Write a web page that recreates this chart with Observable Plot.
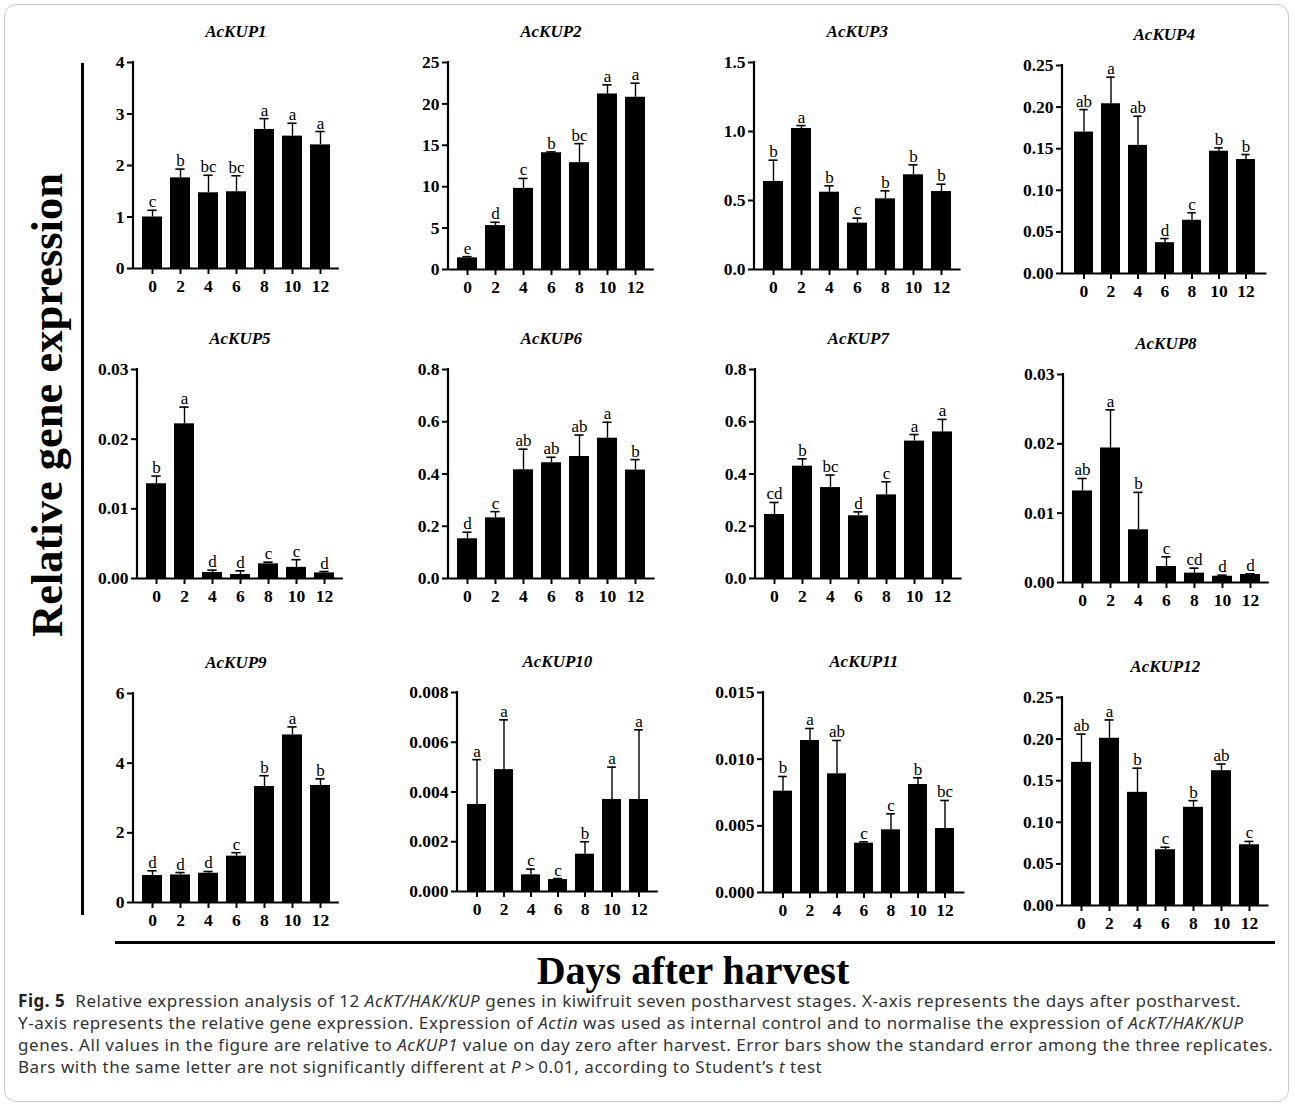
<!DOCTYPE html>
<html><head><meta charset="utf-8">
<script src="https://cdn.jsdelivr.net/npm/d3@7"></script>
<script src="https://cdn.jsdelivr.net/npm/@observablehq/plot@0.6"></script>
<style>
body{margin:0;background:#fff;}
#root{position:relative;width:1295px;height:1111px;overflow:hidden;background:#fff;font-family:"Liberation Serif","Times New Roman",serif;color:#000;}
.panel{position:absolute;}
#root svg, #root svg text{font-family:"Liberation Serif","Times New Roman",serif !important;}
.ttl{position:absolute;font-family:"Liberation Serif","Times New Roman",serif;font-weight:bold;font-style:italic;font-size:17px;transform:translate(-50%,-50%);white-space:nowrap;}
.box{position:absolute;left:4px;top:4px;width:1285px;height:1098px;border:1.5px solid #c9c9c9;border-radius:12px;box-sizing:border-box;}
.vline{position:absolute;left:81px;top:63px;width:3px;height:852px;background:#000;}
.hline{position:absolute;left:115px;top:941px;width:1160px;height:3px;background:#000;}
.ylab{position:absolute;left:47px;top:405px;transform:translate(-50%,-50%) rotate(-90deg);font-weight:bold;font-size:44.5px;white-space:nowrap;}
.xlab{position:absolute;left:693px;top:970px;transform:translate(-50%,-50%);font-weight:bold;font-size:40px;white-space:nowrap;}
.cap{position:absolute;left:18px;top:990px;font-family:"Noto Sans","Open Sans",sans-serif;font-size:17px;letter-spacing:0.55px;line-height:22px;color:#333;white-space:nowrap;}
.cap b{color:#222;}
</style></head><body><div id="root"></div>
<script>
// ---- data ----
const days = ["0","2","4","6","8","10","12"];
const genes = ["AcKUP1","AcKUP2","AcKUP3","AcKUP4","AcKUP5","AcKUP6","AcKUP7","AcKUP8","AcKUP9","AcKUP10","AcKUP11","AcKUP12"];

const mean1 = [1.00,1.76,1.47,1.49,2.70,2.57,2.40];
const top1  = [1.13,1.93,1.81,1.80,2.91,2.82,2.66];
const sig1  = ["c","b","bc","bc","a","a","a"];
const mean2 = [1.4,5.3,9.8,14.1,12.9,21.2,20.8];
const top2  = [1.55,5.7,11.0,14.2,15.2,22.3,22.5];
const sig2  = ["e","d","c","b","bc","a","a"];
const mean3 = [0.638,1.022,0.56,0.336,0.512,0.686,0.565];
const top3  = [0.792,1.043,0.606,0.372,0.57,0.758,0.618];
const sig3  = ["b","a","b","c","b","b","b"];
const mean4 = [0.170,0.204,0.154,0.037,0.064,0.147,0.137];
const top4  = [0.197,0.236,0.189,0.042,0.073,0.151,0.143];
const sig4  = ["ab","a","ab","d","c","b","b"];
const mean5 = [0.0136,0.0222,0.00086,0.00057,0.0021,0.0016,0.0008];
const top5  = [0.0147,0.0246,0.0012,0.0011,0.00234,0.0027,0.001];
const sig5  = ["b","a","d","d","c","c","d"];
const mean6 = [0.152,0.232,0.416,0.443,0.467,0.537,0.415];
const top6  = [0.177,0.256,0.495,0.464,0.549,0.598,0.455];
const sig6  = ["d","c","ab","ab","ab","a","b"];
const mean7 = [0.245,0.43,0.348,0.24,0.32,0.526,0.561];
const top7  = [0.291,0.458,0.396,0.255,0.37,0.551,0.609];
const sig7  = ["cd","b","bc","d","c","a","a"];
const mean8 = [0.0132,0.0194,0.0076,0.0023,0.00135,0.0009,0.00116];
const top8  = [0.0150,0.0249,0.0130,0.0037,0.00207,0.00106,0.00125];
const sig8  = ["ab","a","b","c","cd","d","d"];
const mean9 = [0.775,0.79,0.84,1.33,3.33,4.81,3.36];
const top9  = [0.91,0.86,0.89,1.43,3.64,5.04,3.55];
const sig9  = ["d","d","d","c","b","a","b"];
const mean10 = [0.0035,0.0049,0.00067,0.00048,0.0015,0.0037,0.0037];
const top10  = [0.0053,0.0069,0.0009,0.00052,0.0020,0.0050,0.0065];
const sig10  = ["a","a","c","c","b","a","a"];
const mean11 = [0.0076,0.0114,0.0089,0.0037,0.0047,0.0081,0.0048];
const top11  = [0.0087,0.0123,0.0114,0.0038,0.0059,0.0086,0.0069];
const sig11  = ["b","a","ab","c","c","b","bc"];
const mean12 = [0.172,0.201,0.136,0.067,0.118,0.162,0.073];
const top12  = [0.206,0.223,0.165,0.070,0.126,0.170,0.077];
const sig12  = ["ab","a","b","c","b","ab","c"];

const yticks1 = [0,1,2,3,4];
const yticks2 = [0,5,10,15,20,25];
const yticks3 = [0,0.5,1.0,1.5];
const yticks4 = [0,0.05,0.10,0.15,0.20,0.25];
const yticks5 = [0,0.01,0.02,0.03];
const yticks6 = [0,0.2,0.4,0.6,0.8];
const yticks7 = [0,0.2,0.4,0.6,0.8];
const yticks8 = [0,0.01,0.02,0.03];
const yticks9 = [0,2,4,6];
const yticks10 = [0,0.002,0.004,0.006,0.008];
const yticks11 = [0,0.005,0.010,0.015];
const yticks12 = [0,0.05,0.10,0.15,0.20,0.25];
const decimals = [0,0,1,2,2,1,1,2,0,3,3,2];

const means = [mean1,mean2,mean3,mean4,mean5,mean6,mean7,mean8,mean9,mean10,mean11,mean12];
const tops  = [top1,top2,top3,top4,top5,top6,top7,top8,top9,top10,top11,top12];
const sigs  = [sig1,sig2,sig3,sig4,sig5,sig6,sig7,sig8,sig9,sig10,sig11,sig12];
const yticks = [yticks1,yticks2,yticks3,yticks4,yticks5,yticks6,yticks7,yticks8,yticks9,yticks10,yticks11,yticks12];

// ---- layout (pixel placement of each panel) ----
const layout = [
  {ax:133, yt:62,  y0:268, step:28.2},
  {ax:448, yt:62,  y0:269, step:28.2},
  {ax:754, yt:62,  y0:269, step:28.3},
  {ax:1062,yt:65,  y0:273, step:28.0},
  {ax:137, yt:369, y0:578, step:28.2},
  {ax:448, yt:369, y0:578, step:28.3},
  {ax:755, yt:369, y0:578, step:28.3},
  {ax:1063,yt:374, y0:582, step:28.2},
  {ax:133, yt:693, y0:902, step:28.2},
  {ax:457, yt:692, y0:891, step:27.5},
  {ax:763, yt:692, y0:892, step:27.6},
  {ax:1062,yt:697, y0:905, step:28.3}
];

const root = document.getElementById("root");
function add(cls, html){const d=document.createElement("div");d.className=cls;if(html!==undefined)d.innerHTML=html;root.appendChild(d);return d;}

add("box");
add("vline");
add("hline");
add("ylab","Relative gene expression");
add("xlab","Days after harvest");

const SERIF = "'Liberation Serif','Times New Roman',serif";
const mL=70, mR=10, mT=34, mB=40, pad=0.3;
genes.forEach((g,i)=>{
  const L = layout[i];
  const w = L.step*(7+pad);
  const h = L.y0 - L.yt;
  const bw = L.step*(1-pad);
  const cap = 9;
  const data = days.map((d,j)=>({day:d, v:means[i][j], e:tops[i][j], s:sigs[i][j]}));
  const tk = yticks[i];
  const fmt = d3.format("." + decimals[i] + "f");
  const chart = Plot.plot({
    width: mL + w + mR, height: mT + h + mB,
    marginLeft:mL, marginRight:mR, marginTop:mT, marginBottom:mB,
    style:{fontFamily:SERIF, background:"transparent", overflow:"visible", color:"#000"},
    x:{domain:days, padding:pad, label:null},
    y:{domain:[0, tk[tk.length-1]], label:null},
    marks:[
      Plot.ruleX(data,{x:"day", y1:"v", y2:"e", stroke:"#000", strokeWidth:1.4}),
      Plot.tickY(data,{x:"day", y:"e", stroke:"#000", strokeWidth:1.6, insetLeft:(bw-cap)/2, insetRight:(bw-cap)/2}),
      Plot.barY(data,{x:"day", y:"v", fill:"#000"}),
      Plot.text(data,{x:"day", y:"e", text:"s", dy:-3, lineAnchor:"bottom", fontSize:17, fontWeight:"normal", fontFamily:SERIF, fill:"#000"}),
      Plot.axisY({ticks:tk, tickFormat:fmt, tickSize:6, tickPadding:3, strokeWidth:2, fontSize:17.5, fontWeight:"bold", fontFamily:SERIF, label:null}),
      Plot.axisX({tickSize:6, tickPadding:5, strokeWidth:2, fontSize:17.5, fontWeight:"bold", fontFamily:SERIF, label:null}),
      Plot.ruleY([0],{stroke:"#000", strokeWidth:2.2}),
      (index, scales, values, dims) => {
        const ln = document.createElementNS("http://www.w3.org/2000/svg","line");
        const x = dims.marginLeft;
        ln.setAttribute("x1", x); ln.setAttribute("x2", x);
        ln.setAttribute("y1", dims.marginTop - 1); ln.setAttribute("y2", dims.height - dims.marginBottom + 1);
        ln.setAttribute("stroke","#000"); ln.setAttribute("stroke-width","2.2");
        return ln;
      }
    ]
  });
  const wrap = add("panel");
  wrap.style.left = (L.ax - mL) + "px";
  wrap.style.top = (L.yt - mT) + "px";
  wrap.appendChild(chart);
  const t = add("ttl", g);
  t.style.left = (L.ax + w/2) + "px";
  t.style.top = (L.yt - 30) + "px";
});

add("cap",
 '<b>Fig. 5</b>&nbsp; Relative expression analysis of 12 <i>AcKT/HAK/KUP</i> genes in kiwifruit seven postharvest stages. X-axis represents the days after postharvest.<br>' +
 'Y-axis represents the relative gene expression. Expression of <i>Actin</i> was used as internal control and to normalise the expression of <i>AcKT/HAK/KUP</i><br>' +
 'genes. All values in the figure are relative to <i>AcKUP1</i> value on day zero after harvest. Error bars show the standard error among the three replicates.<br>' +
 'Bars with the same letter are not significantly different at <i>P</i>&thinsp;&gt;&thinsp;0.01, according to Student\u2019s <i>t</i> test');
</script>
</body></html>
